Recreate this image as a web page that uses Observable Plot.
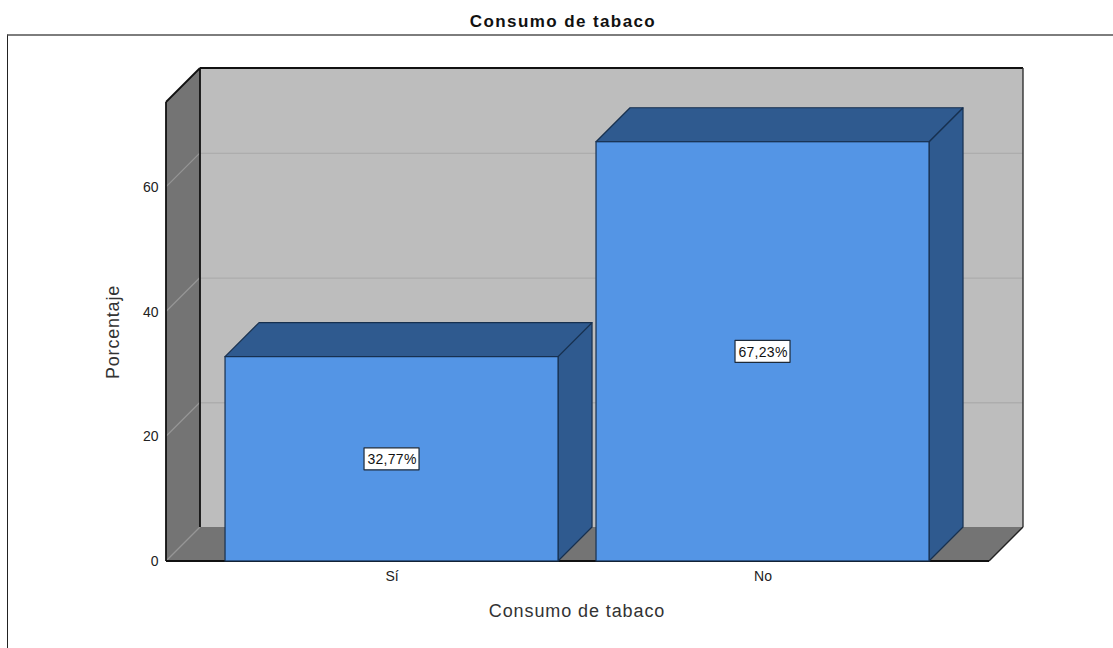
<!DOCTYPE html>
<html lang="es">
<head>
<meta charset="utf-8">
<title>Consumo de tabaco</title>
<script src="https://cdn.jsdelivr.net/npm/d3@7"></script>
<script src="https://cdn.jsdelivr.net/npm/@observablehq/plot@0.6"></script>
<style>
  html, body { margin: 0; padding: 0; background: #fff; }
  #figure { position: relative; width: 1113px; height: 648px; overflow: hidden; }
  #title {
    position: absolute; left: 13px; right: 0; top: 12px; height: 20px; line-height: 20px;
    text-align: center; font: bold 17px "Liberation Sans", Arial, sans-serif;
    letter-spacing: 1.4px; color: #111;
  }
  #panel {
    position: absolute; left: 7px; top: 34px; right: 0; bottom: 0;
    border-top: 2px solid #7d7d7d; border-left: 1px solid #222;
  }
  #chart { position: absolute; left: 0; top: 35px; }
  #chart svg { display: block; background: transparent; }
  .y-title text { letter-spacing: 0.8px; }
  .x-title text { letter-spacing: 0.9px; }
  .value-label text { letter-spacing: 0.3px; }
</style>
</head>
<body>
<div id="figure">
  <div id="title">Consumo de tabaco</div>
  <div id="panel"></div>
  <div id="chart"></div>
</div>
<script>
// Smoking prevalence, percentage of respondents
const categories = ["Sí", "No"];
const percentages = [32.77, 67.23];
const yTicks = [0, 20, 40, 60];
const yMax = 73.6;

const table = categories.map((category, i) => ({category, value: percentages[i]}));
const asLabel = (v) => `${v.toFixed(2).replace(".", ",")}%`;

// Oblique projection of the chart box, in pixels
const depthX = 34;
const depthY = 34;

const colors = {
  wall: "#bdbdbd",
  side: "#747474",
  grid: "#adadad",
  sideGrid: "#969696",
  edge: "#111",
  front: "#5495e5",
  shade: "#2f5a8f",
  barEdge: "#17304f"
};

const SVG_NS = "http://www.w3.org/2000/svg";
function polygon(parent, points, fill, stroke, strokeWidth) {
  const p = document.createElementNS(SVG_NS, "polygon");
  p.setAttribute("points", points.map((c) => c.join(",")).join(" "));
  p.setAttribute("fill", fill);
  p.setAttribute("stroke", stroke || "none");
  if (stroke) p.setAttribute("stroke-width", strokeWidth);
  p.setAttribute("stroke-linejoin", "round");
  parent.appendChild(p);
}
function segment(parent, a, b, stroke, strokeWidth) {
  const l = document.createElementNS(SVG_NS, "line");
  l.setAttribute("x1", a[0]); l.setAttribute("y1", a[1]);
  l.setAttribute("x2", b[0]); l.setAttribute("y2", b[1]);
  l.setAttribute("stroke", stroke);
  l.setAttribute("stroke-width", strokeWidth);
  parent.appendChild(l);
}

// Back wall, left wall and floor of the box
function roomBack(index, scales, values, dim) {
  const g = document.createElementNS(SVG_NS, "g");
  const left = dim.marginLeft, right = dim.width - dim.marginRight;
  const top = dim.marginTop, bottom = dim.height - dim.marginBottom;
  polygon(g, [[left + depthX, top - depthY], [right + depthX, top - depthY],
              [right + depthX, bottom - depthY], [left + depthX, bottom - depthY]], colors.wall);
  return g;
}
function roomSides(index, scales, values, dim) {
  const g = document.createElementNS(SVG_NS, "g");
  const left = dim.marginLeft, right = dim.width - dim.marginRight;
  const top = dim.marginTop, bottom = dim.height - dim.marginBottom;
  polygon(g, [[left, top], [left + depthX, top - depthY], [left + depthX, bottom - depthY], [left, bottom]], colors.side);
  polygon(g, [[left, bottom], [left + depthX, bottom - depthY], [right + depthX, bottom - depthY], [right, bottom]], colors.side);
  for (const t of yTicks.slice(1)) {
    const y = scales.y(t);
    segment(g, [left, y], [left + depthX, y - depthY], colors.sideGrid, 1.2);
  }
  segment(g, [left, bottom], [left + depthX, bottom - depthY], colors.sideGrid, 1.2);
  segment(g, [left + depthX, bottom - depthY], [left + depthX, top - depthY], colors.edge, 1.8);
  segment(g, [left, top], [left + depthX, top - depthY], colors.edge, 1.8);
  segment(g, [left + depthX, top - depthY], [right + depthX, top - depthY], colors.edge, 1.8);
  segment(g, [right + depthX, top - depthY], [right + depthX, bottom - depthY], "#333", 1.4);
  segment(g, [right + depthX, bottom - depthY], [right, bottom], "#222", 1.4);
  segment(g, [left, top], [left, bottom], colors.edge, 1.8);
  segment(g, [left, bottom], [right, bottom], colors.edge, 1.8);
  return g;
}

// Top and right faces of each bar
function barDepth(index, scales) {
  const g = document.createElementNS(SVG_NS, "g");
  for (const d of table) {
    const x0 = scales.x(d.category);
    const x1 = x0 + scales.x.bandwidth();
    const y0 = scales.y(0), y1 = scales.y(d.value);
    polygon(g, [[x1, y0], [x1 + depthX, y0 - depthY], [x1 + depthX, y1 - depthY], [x1, y1]],
            colors.shade, colors.barEdge, 1.2);
    polygon(g, [[x0, y1], [x0 + depthX, y1 - depthY], [x1 + depthX, y1 - depthY], [x1, y1]],
            colors.shade, colors.barEdge, 1.2);
  }
  return g;
}

// White boxes behind the value labels
function labelBoxes(index, scales) {
  const g = document.createElementNS(SVG_NS, "g");
  const w = 55, h = 22;
  for (const d of table) {
    const cx = scales.x(d.category) + scales.x.bandwidth() / 2;
    const cy = scales.y(d.value / 2);
    polygon(g, [[cx - w / 2, cy - h / 2], [cx + w / 2, cy - h / 2], [cx + w / 2, cy + h / 2], [cx - w / 2, cy + h / 2]],
            "#fff", "#1d2a3a", 1.2);
  }
  return g;
}

const chart = Plot.plot({
  width: 1113,
  height: 613,
  marginLeft: 166,
  marginRight: 124,
  marginTop: 67,
  marginBottom: 87,
  style: {fontFamily: "'Liberation Sans', Arial, sans-serif", background: "transparent", overflow: "visible"},
  x: {type: "band", domain: categories, round: false, paddingInner: 0.1024, paddingOuter: 0.1604, align: 0.496, label: null},
  y: {domain: [0, yMax], label: null},
  marks: [
    roomBack,
    Plot.ruleY(yTicks.slice(1), {dx: depthX, dy: -depthY, stroke: colors.grid, strokeWidth: 1.3}),
    roomSides,
    barDepth,
    Plot.barY(table, {x: "category", y: "value", fill: colors.front, stroke: colors.barEdge, strokeWidth: 1.2}),
    Plot.axisY({ticks: yTicks, tickSize: 0, tickPadding: 8, fontSize: 14, label: null, color: "#222"}),
    Plot.axisX({tickSize: 0, tickPadding: 10, fontSize: 14, label: null, color: "#222"}),
    labelBoxes,
    Plot.text(table, {
      x: "category",
      y: (d) => d.value / 2,
      text: (d) => asLabel(d.value),
      fontSize: 14,
      fill: "#111",
      dy: 0.5,
      className: "value-label"
    }),
    Plot.text(["Porcentaje"], {
      frameAnchor: "left",
      textAnchor: "middle",
      rotate: -90,
      dx: -53,
      fontSize: 18,
      fill: "#333",
      className: "y-title"
    }),
    Plot.text(["Consumo de tabaco"], {
      frameAnchor: "bottom",
      lineAnchor: "middle",
      dy: 50,
      dx: -1,
      fontSize: 18,
      fill: "#333",
      className: "x-title"
    })
  ]
});

document.getElementById("chart").appendChild(chart);
</script>
</body>
</html>
